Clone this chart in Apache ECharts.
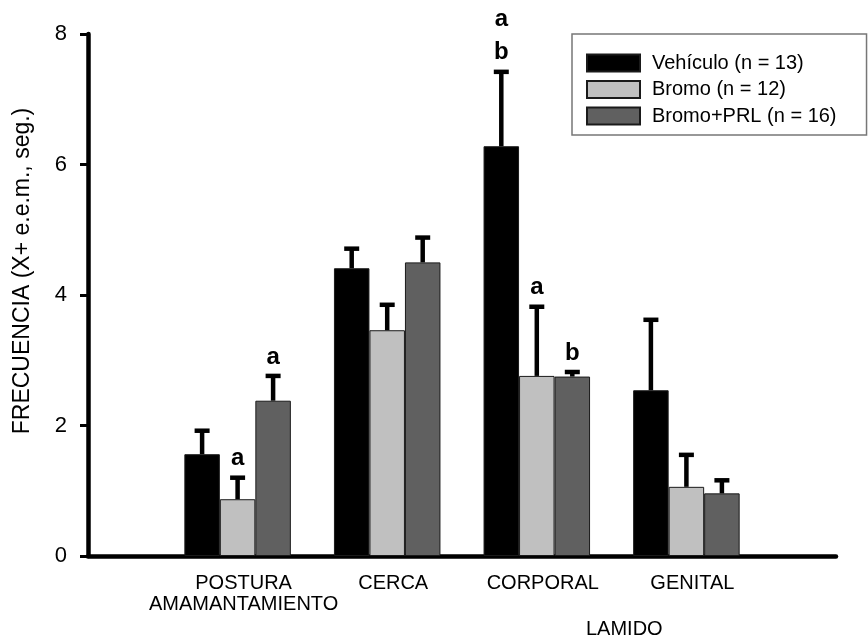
<!DOCTYPE html>
<html>
<head>
<meta charset="utf-8">
<script src="https://cdn.jsdelivr.net/npm/echarts@6/dist/echarts.min.js"></script>
<style>
  html, body { margin: 0; padding: 0; background: #fff; }
  #chart { width: 868px; height: 641px; }
</style>
</head>
<body>
<div id="chart"></div>
<script>
// ---- data ----
const categories = ['', 'POSTURA\nAMAMANTAMIENTO', 'CERCA', 'CORPORAL', 'GENITAL', ''];
const seriesNames = ['Vehículo (n = 13)', 'Bromo (n = 12)', 'Bromo+PRL (n = 16)'];
const vehiculoMean  = [1.56, 4.41, 6.28, 2.54];
const vehiculoUpper = [1.92, 4.71, 7.42, 3.62];
const bromoMean     = [0.87, 3.46, 2.76, 1.06];
const bromoUpper    = [1.20, 3.85, 3.82, 1.55];
const prlMean       = [2.38, 4.50, 2.75, 0.96];
const prlUpper      = [2.76, 4.88, 2.82, 1.16];
const vehiculoLetters = ['', '', 'a\nb', ''];
const bromoLetters    = ['a', '', 'a', ''];
const prlLetters      = ['a', '', 'b', ''];
const yTicks = [0, 2, 4, 6, 8];
const xTitle = 'LAMIDO';
const yTitle = 'FRECUENCIA (X+ e.e.m., seg.)';

// ---- styles ----
const FONT = 'Liberation Sans, Arial, Helvetica, sans-serif';
const BAR_W = 35.5;
const colors = ['#000000', '#c0c0c0', '#606060'];

const means = [vehiculoMean, bromoMean, prlMean];
const uppers = [vehiculoUpper, bromoUpper, prlUpper];
const letters = [vehiculoLetters, bromoLetters, prlLetters];

const barSeries = means.map((m, i) => ({
  name: seriesNames[i],
  type: 'bar',
  barWidth: BAR_W,
  barGap: '0%',
  z: 2,
  itemStyle: { color: colors[i], borderColor: '#1a1a1a', borderWidth: 1 },
  data: [null].concat(m).concat([null])
}));

const errSeries = means.map((m, i) => ({
  name: 'err' + i,
  type: 'custom',
  z: 5,
  silent: true,
  data: m.map((v, k) => [k + 1, v, uppers[i][k]]),
  encode: { x: 0, y: [1, 2] },
  renderItem: function (params, api) {
    const idx = api.value(0);
    const base = api.coord([idx, api.value(1)]);
    const top = api.coord([idx, api.value(2)]);
    const x = base[0] + (i - 1) * BAR_W;
    const children = [
      { type: 'line', shape: { x1: x, y1: base[1], x2: x, y2: top[1] },
        style: { stroke: '#000', lineWidth: 4.5 } },
      { type: 'line', shape: { x1: x - 7.5, y1: top[1], x2: x + 7.5, y2: top[1] },
        style: { stroke: '#000', lineWidth: 4.5 } }
    ];
    const t = letters[i][params.dataIndex];
    if (t) {
      const lines = t.split('\n').reverse();
      lines.forEach((ln, j) => {
        children.push({
          type: 'text',
          style: {
            text: ln, x: x, y: top[1] - 7 - j * 33,
            align: 'center', verticalAlign: 'bottom',
            font: 'bold 24px ' + FONT, fill: '#000'
          }
        });
      });
    }
    return { type: 'group', children: children };
  }
}));

const chart = echarts.init(document.getElementById('chart'), null, { renderer: 'canvas' });
chart.setOption({
  animation: false,
  backgroundColor: '#ffffff',
  textStyle: { fontFamily: FONT },
  title: {
    text: xTitle, left: 581, top: 614,
    textStyle: { fontSize: 20, fontWeight: 'normal', color: '#000', fontFamily: FONT }
  },
  legend: {
    data: seriesNames,
    orient: 'vertical',
    left: 572, top: 34,
    itemWidth: 53, itemHeight: 17, itemGap: 6.5,
    padding: [19, 30, 9, 14],
    borderColor: '#777', borderWidth: 1.5,
    icon: 'rect',
    textStyle: { fontSize: 20, color: '#000', fontFamily: FONT, padding: [0, 0, 0, 7] }
  },
  grid: { left: 88, right: 32, top: 34, bottom: 85, containLabel: false },
  xAxis: {
    type: 'category',
    data: categories,
    boundaryGap: false,
    axisLine: { lineStyle: { color: '#000', width: 4.5 } },
    axisTick: { show: false },
    axisLabel: {
      interval: 0, margin: 17, fontSize: 20, color: '#000', fontFamily: FONT,
      lineHeight: 21, padding: [0, 0, 0, 12]
    },
    splitLine: { show: false }
  },
  yAxis: {
    type: 'value',
    min: yTicks[0], max: yTicks[yTicks.length - 1], interval: 2,
    name: yTitle,
    nameLocation: 'middle',
    nameGap: 54,
    nameTextStyle: { fontSize: 23, color: '#000', fontFamily: FONT, padding: [0, 0, 0, 48] },
    axisLine: { show: true, lineStyle: { color: '#000', width: 4.5 } },
    axisTick: { show: true, length: 8, lineStyle: { color: '#000', width: 3 } },
    axisLabel: { margin: 21, fontSize: 22, color: '#000', fontFamily: FONT },
    splitLine: { show: false }
  },
  series: barSeries.concat(errSeries)
});
</script>
</body>
</html>
